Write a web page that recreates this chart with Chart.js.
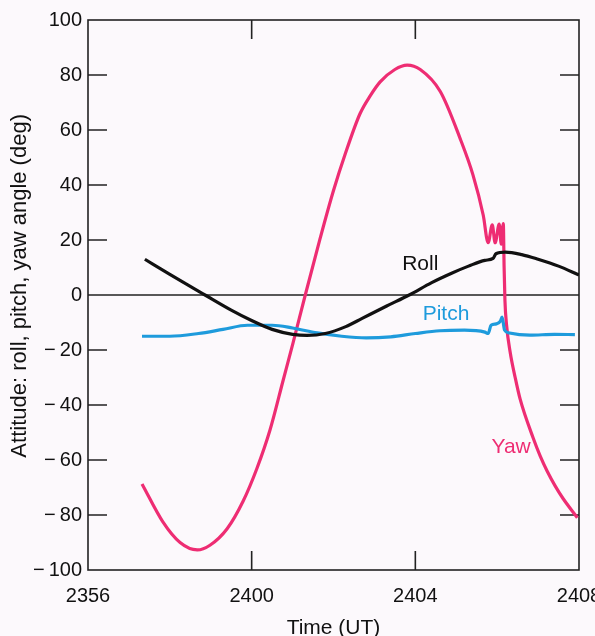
<!DOCTYPE html>
<html>
<head>
<meta charset="utf-8">
<script src="https://cdn.jsdelivr.net/npm/chart.js@4/dist/chart.umd.min.js"></script>
<style>
  html, body { margin: 0; padding: 0; background: #fcf9fc; }
  #wrap { width: 595px; height: 636px; }
</style>
</head>
<body>
<div id="wrap"><canvas id="myChart"></canvas></div>
<script>
// time in minutes after 2356 UT
const xTickLabels = ["2356", "2400", "2404", "2408"];
const xTickValues = [0, 4, 8, 12];
const yTickValues = [-100, -80, -60, -40, -20, 0, 20, 40, 60, 80, 100];

const rollT = [1.39, 2.0, 2.86, 3.5, 3.96, 4.5, 5.0, 5.35, 5.8, 6.3, 6.7, 7.3, 7.85, 8.4, 8.9, 9.3, 9.7, 9.9, 9.97, 10.2, 10.6, 11.0, 11.5, 12.0];
const rollV = [13, 7.5, 0, -5.5, -9, -12.5, -14.3, -14.7, -14, -11.5, -8.5, -4, 0, 4.5, 8, 10.5, 12.6, 13.3, 15, 15.6, 14.7, 13, 10.5, 7.3];

const pitchT = [1.32, 2.0, 2.7, 3.3, 3.9, 4.5, 5.0, 5.6, 6.2, 6.8, 7.4, 8.0, 8.6, 9.2, 9.7, 9.78, 9.85, 9.98, 10.08, 10.12, 10.18, 10.3, 10.8, 11.4, 11.9];
const pitchV = [-15, -15, -14, -12.5, -11, -11, -12, -13.8, -15, -15.6, -15.2, -14, -13, -12.8, -13.5, -14, -11, -10.5, -9.5, -8, -12.7, -13.8, -14.6, -14.3, -14.4];

const yawT = [1.32, 1.83, 2.25, 2.67, 2.98, 3.40, 3.79, 4.13, 4.45, 4.77, 5.01, 5.31, 5.67, 6.0, 6.28, 6.65, 6.9, 7.14, 7.50, 7.80, 8.12, 8.61, 9.10, 9.41, 9.66, 9.78, 9.88, 9.95, 10.05, 10.10, 10.15, 10.17, 10.19, 10.23, 10.32, 10.44, 10.56, 10.88, 11.05, 11.22, 11.42, 11.61, 11.96];
const yawV = [-68.7, -82.5, -90, -92.7, -91, -85, -75, -63, -49, -31, -17.5, 0, 20.4, 38, 51, 66, 72.5, 77.5, 82, 83.6, 82, 74, 56.7, 43.6, 29, 19, 25.5, 19, 25.8, 18.5, 26, 10, -2, -11, -21, -30, -37.8, -52, -58.5, -64, -69.5, -74, -81];

// label names and where they sit (data units)
const seriesNames = ["Roll", "Pitch", "Yaw"];
const labelT = [8.12, 8.75, 10.34];
const labelV = [11.3, -6.9, -55.3];

const rollColor = "#111111";
const pitchColor = "rgb(30, 155, 220)";
const yawColor = "rgb(238, 45, 115)";

function pts(t, v) {
  return t.map((x, i) => ({ x: x, y: v[i] }));
}

const font = "'Liberation Sans', Arial, sans-serif";

const framePlugin = {
  id: "frame",
  beforeDatasetsDraw(chart) {
    const ctx = chart.ctx;
    const a = chart.chartArea;
    const xs = chart.scales.x, ys = chart.scales.y;
    ctx.save();
    ctx.strokeStyle = "#222";
    ctx.lineWidth = 1.6;
    ctx.strokeRect(a.left, a.top, a.right - a.left, a.bottom - a.top);
    // zero line
    ctx.lineWidth = 1.3;
    const y0 = ys.getPixelForValue(0);
    ctx.beginPath();
    ctx.moveTo(a.left, y0);
    ctx.lineTo(a.right, y0);
    ctx.stroke();
    // inward ticks
    ctx.lineWidth = 1.6;
    ctx.beginPath();
    yTickValues.forEach(v => {
      if (v === 0 || Math.abs(v) === 100) return;
      const y = ys.getPixelForValue(v);
      ctx.moveTo(a.left, y); ctx.lineTo(a.left + 19, y);
      ctx.moveTo(a.right, y); ctx.lineTo(a.right - 19, y);
    });
    xTickValues.forEach(v => {
      if (v === 0 || v === 12) return;
      const x = xs.getPixelForValue(v);
      ctx.moveTo(x, a.top); ctx.lineTo(x, a.top + 19);
      ctx.moveTo(x, a.bottom); ctx.lineTo(x, a.bottom - 19);
    });
    ctx.stroke();
    ctx.restore();
  },
  afterDatasetsDraw(chart) {
    const ctx = chart.ctx;
    const xs = chart.scales.x, ys = chart.scales.y;
    const colors = [rollColor, pitchColor, yawColor];
    ctx.save();
    ctx.font = "21px " + font;
    ctx.textAlign = "center";
    ctx.textBaseline = "middle";
    seriesNames.forEach((name, i) => {
      ctx.fillStyle = colors[i];
      ctx.fillText(name, xs.getPixelForValue(labelT[i]), ys.getPixelForValue(labelV[i]));
    });
    ctx.restore();
  }
};

const config = {
  type: "line",
  data: {
    datasets: [
      {
        label: "Roll",
        data: pts(rollT, rollV),
        borderColor: rollColor,
        borderWidth: 3.2
      },
      {
        label: "Pitch",
        data: pts(pitchT, pitchV),
        borderColor: pitchColor,
        borderWidth: 3.2
      },
      {
        label: "Yaw",
        data: pts(yawT, yawV),
        borderColor: yawColor,
        borderWidth: 3.2
      }
    ]
  },
  options: {
    responsive: true,
    maintainAspectRatio: false,
    animation: false,
    parsing: false,
    layout: { padding: { left: 0, right: 16, top: 20, bottom: 0 } },
    elements: {
      point: { radius: 0 },
      line: { cubicInterpolationMode: "monotone", fill: false }
    },
    plugins: {
      legend: { display: false },
      tooltip: { enabled: false }
    },
    scales: {
      x: {
        type: "linear",
        min: 0,
        max: 12,
        afterBuildTicks(scale) {
          scale.ticks = xTickValues.map(v => ({ value: v }));
        },
        afterFit(scale) {
          scale.height = 66;
          scale.paddingLeft = 0;
          scale.paddingRight = 0;
        },
        grid: { display: false, drawTicks: false },
        border: { display: false },
        ticks: {
          padding: 14,
          maxRotation: 0,
          autoSkip: false,
          color: "#111",
          font: { family: font, size: 20 },
          callback: (v) => xTickLabels[xTickValues.indexOf(v)]
        },
        title: {
          display: true,
          text: "Time (UT)",
          color: "#111",
          font: { family: font, size: 21, lineHeight: 1.2 },
          padding: { top: 0, bottom: -5 }
        }
      },
      y: {
        min: -100,
        max: 100,
        afterBuildTicks(scale) {
          scale.ticks = yTickValues.map(v => ({ value: v }));
        },
        afterFit(scale) {
          scale.width = 88;
        },
        grid: { display: false, drawTicks: false },
        border: { display: false },
        ticks: {
          padding: 6,
          color: "#111",
          font: { family: font, size: 20 },
          callback: (v) => v < 0 ? "\u2212\u2009" + Math.abs(v) : String(v)
        },
        title: {
          display: true,
          text: "   Attitude: roll, pitch, yaw angle (deg)",
          color: "#111",
          font: { family: font, size: 22, lineHeight: 1.2 },
          padding: { top: 7, bottom: 0 }
        }
      }
    }
  },
  plugins: [framePlugin]
};

var myChart = new Chart(document.getElementById("myChart"), config);
</script>
</body>
</html>
